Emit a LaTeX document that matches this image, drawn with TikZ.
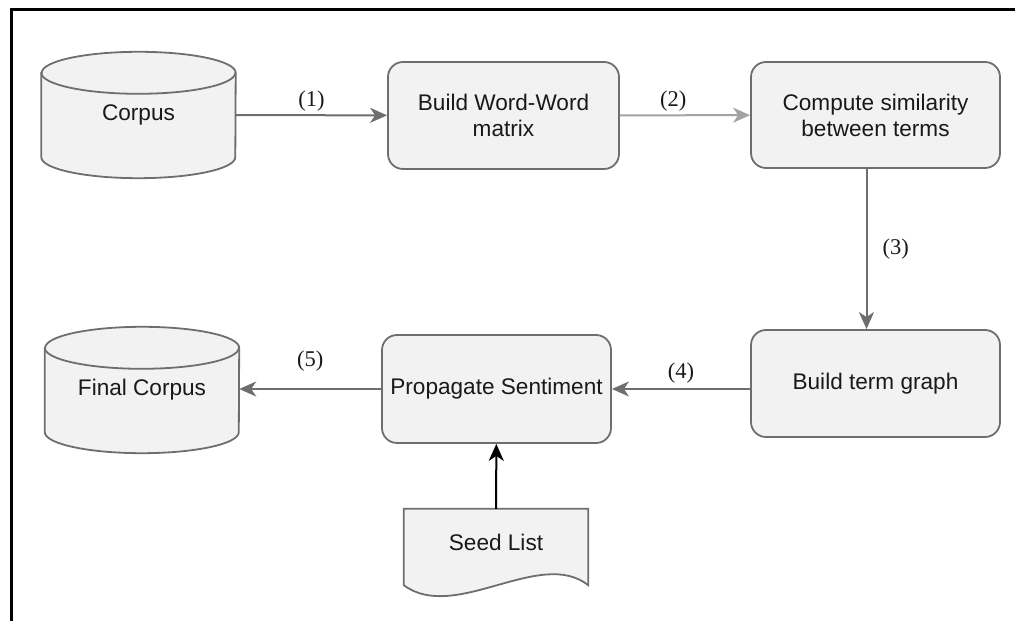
\documentclass[tikz,border=0pt]{standalone}
\usepackage{fontspec}
\setmainfont{Liberation Sans}
\newfontfamily\numfont{Liberation Serif}
\usetikzlibrary{positioning,arrows.meta,calc,backgrounds}

\definecolor{boxline}{HTML}{6E6E6E}
\definecolor{boxfill}{HTML}{F2F2F2}
\definecolor{flowgray}{HTML}{6E6E6E}
\definecolor{lightflow}{HTML}{A3A3A3}

\tikzset{
  stepbox/.style={draw=boxline, fill=boxfill, line width=1.8pt, rounded corners=15pt,
    align=center, text=black!90, font=\fontsize{22.6}{26}\selectfont},
  store/.style={minimum width=194pt, minimum height=126pt, inner sep=0pt,
    text=black!90, font=\fontsize{22.6}{26}\selectfont},
  dbshape/.style={draw=boxline, fill=boxfill, line width=1.8pt},
  flow/.style={draw=flowgray, line width=2pt, -{Stealth[length=17pt,width=15pt,inset=5pt]}},
  tag/.style={font=\numfont\fontsize{22.5}{26}\selectfont, text=black!90, inner sep=3pt}
}

\begin{document}
\begin{tikzpicture}[x=1pt,y=1pt]
				\useasboundingbox (0,0) rectangle (1015,621);
				\draw[line width=3pt] (11,-2) -- (11,611) -- (1017,611);

				\node[store] (corpus) at (138.5,506) {Corpus};
				\node[stepbox, minimum width=231pt, minimum height=107pt] (wordmat) at (503.5,505.5) {Build Word-Word\\matrix};
				\node[stepbox, minimum width=249pt, minimum height=106pt] (simil) at (875.5,506) {Compute similarity\\between terms};
				\node[stepbox, minimum width=249pt, minimum height=107pt] (termgraph) at (875.5,237.5) {Build term graph};
				\node[stepbox, minimum width=229pt, minimum height=108pt] (propag) at (496.5,232) {Propagate Sentiment};
				\node[store] (fincorp) at (142,231) {Final Corpus};
				\node[minimum width=184pt, minimum height=76pt, inner sep=0pt, text depth=10pt,
				  text=black!90, font=\fontsize{22.6}{26}\selectfont] (seed) at (496,74) {Seed List};

				% shapes behind the texts
				\begin{scope}[on background layer]
				\foreach \n in {corpus,fincorp} {
					\draw[dbshape] ($(\n.north west)+(0,-21)$) -- ($(\n.south west)+(0,21)$)
						arc[start angle=180, end angle=360, x radius=97, y radius=21]
						-- ($(\n.north east)+(0,-21)$)
						arc[start angle=0, end angle=180, x radius=97, y radius=21] -- cycle;
					\draw[boxline, line width=1.8pt] ($(\n.north west)+(0,-21)$)
						arc[start angle=180, end angle=360, x radius=97, y radius=21];
				}
				\draw[dbshape] (seed.north west) -- (seed.north east) -- (seed.south east)
					.. controls ($(seed.south east)+(-48,38)$) and ($(seed.south west)+(51,-38)$) .. (seed.south west) -- cycle;
				\end{scope}

				\path (corpus) edge[flow] node[tag, above] {(1)} (wordmat);
				\path (wordmat) edge[flow, draw=lightflow] node[tag, above, pos=0.41] {(2)} (simil);
				\path ([xshift=-9pt]simil.south) edge[flow] node[tag, right=12pt] {(3)} ([xshift=-9pt]termgraph.north);
				\path (termgraph.west |- propag.east) edge[flow] node[tag, above=2pt] {(4)} (propag.east);
				\path (propag.west) edge[flow] node[tag, above=14pt] {(5)} (fincorp.east |- propag.west);
				\path (seed) edge[flow, draw=black] (propag);
			\end{tikzpicture}
\end{document}
